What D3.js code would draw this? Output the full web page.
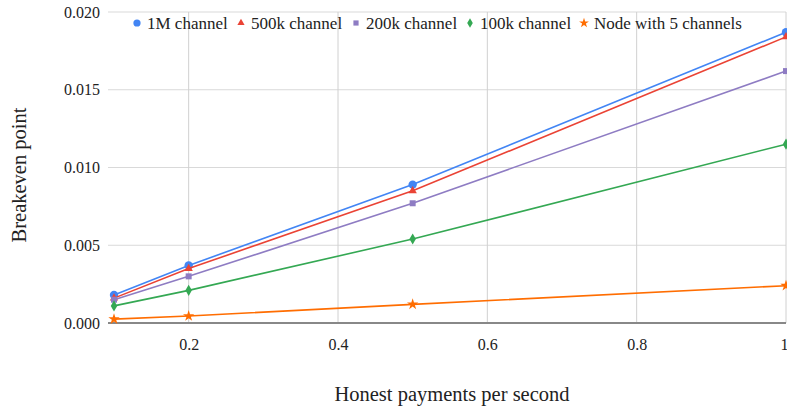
<!DOCTYPE html>
<html>
<head>
<meta charset="utf-8">
<script src="https://cdn.jsdelivr.net/npm/d3@7"></script>
<style>
  body { margin: 0; background: #fff; }
</style>
</head>
<body>
<script>
// data
const xs = [0.1, 0.2, 0.5, 1];
const seriesNames = ["1M channel", "500k channel", "200k channel", "100k channel", "Node with 5 channels"];
const s1M = [0.0018, 0.0037, 0.0089, 0.0187];
const s500k = [0.0016, 0.0035, 0.0085, 0.0184];
const s200k = [0.0015, 0.0030, 0.0077, 0.0162];
const s100k = [0.0011, 0.0021, 0.0054, 0.0115];
const sNode5 = [0.00025, 0.00045, 0.0012, 0.0024];
const xTicks = [0.2, 0.4, 0.6, 0.8, 1];
const yTicks = [0, 0.005, 0.01, 0.015, 0.02];

const allSeries = [s1M, s500k, s200k, s100k, sNode5];
const colors = ["#4285f4", "#ea4335", "#8e7cc3", "#34a853", "#ff6d01"];
const symbols = [d3.symbolCircle, d3.symbolTriangle, d3.symbolSquare, d3.symbolDiamond, d3.symbolStar];
const symSize = [55, 30, 36, 36, 40];
const FONT = "'Liberation Serif', 'Times New Roman', serif";

const W = 787, H = 410;
const svg = d3.select("body").append("svg").attr("width", W).attr("height", H)
  .attr("font-family", FONT);

const x = d3.scaleLinear().domain([0.1, 1]).range([114, 786]);
const y = d3.scaleLinear().domain([0, 0.02]).range([323, 12]);
const plotLeft = 108, plotRight = 786;

// gridlines
const g = svg.append("g");
g.selectAll("line.hg").data(yTicks.filter(d => d > 0)).join("line")
  .attr("x1", plotLeft).attr("x2", plotRight)
  .attr("y1", d => y(d)).attr("y2", d => y(d))
  .attr("stroke", "#d9d9d9").attr("stroke-width", 1);
g.selectAll("line.vg").data(xTicks).join("line")
  .attr("x1", d => x(d)).attr("x2", d => x(d))
  .attr("y1", y(0.02)).attr("y2", y(0))
  .attr("stroke", "#d0d0d0").attr("stroke-width", 1);

// axes
const xAxis = svg.append("g").attr("transform", `translate(0,${y(0)})`)
  .call(d3.axisBottom(x).tickValues(xTicks).tickSize(0).tickPadding(16)
    .tickFormat(d => d === 1 ? "1" : d3.format(".1f")(d)));
xAxis.select(".domain").remove();
xAxis.attr("font-family", FONT).attr("font-size", 16);
xAxis.selectAll("text").attr("fill", "#222")
  .attr("text-anchor", d => d === 1 ? "end" : "middle")
  .attr("dx", d => d === 1 ? 2 : 0);

const yAxis = svg.append("g").attr("transform", `translate(${plotLeft - 8},0)`)
  .call(d3.axisLeft(y).tickValues(yTicks).tickSize(0).tickPadding(0).tickFormat(d3.format(".3f")));
yAxis.select(".domain").remove();
yAxis.attr("font-family", FONT).attr("font-size", 16);
yAxis.selectAll("text").attr("fill", "#222");

svg.append("line")
  .attr("x1", plotLeft).attr("x2", plotRight)
  .attr("y1", y(0)).attr("y2", y(0))
  .attr("stroke", "#888").attr("stroke-width", 2);

// lines and markers
const line = d3.line().x((d, i) => x(xs[i])).y(d => y(d));
allSeries.forEach((vals, k) => {
  svg.append("path").datum(vals)
    .attr("d", line).attr("fill", "none")
    .attr("stroke", colors[k]).attr("stroke-width", 1.6);
  svg.selectAll(null).data(vals).join("path")
    .attr("transform", (d, i) => `translate(${x(xs[i])},${y(d)})`)
    .attr("d", d3.symbol().type(symbols[k]).size(symSize[k]))
    .attr("fill", colors[k]);
});

// legend
const legendX = [137, 241, 356, 470, 584];
const leg = svg.append("g");
seriesNames.forEach((name, k) => {
  leg.append("path")
    .attr("transform", `translate(${legendX[k]},23)`)
    .attr("d", d3.symbol().type(symbols[k]).size(symSize[k] * 0.75))
    .attr("fill", colors[k]);
  leg.append("text")
    .attr("x", legendX[k] + 10).attr("y", 29)
    .attr("font-size", 17).attr("fill", "#222")
    .text(name);
});

// axis titles
svg.append("text")
  .attr("x", 452).attr("y", 401)
  .attr("text-anchor", "middle")
  .attr("font-size", 20.5).attr("fill", "#222")
  .text("Honest payments per second");

svg.append("text")
  .attr("transform", "translate(26,175) rotate(-90)")
  .attr("text-anchor", "middle")
  .attr("font-size", 20.5).attr("fill", "#222")
  .text("Breakeven point");
</script>
</body>
</html>
